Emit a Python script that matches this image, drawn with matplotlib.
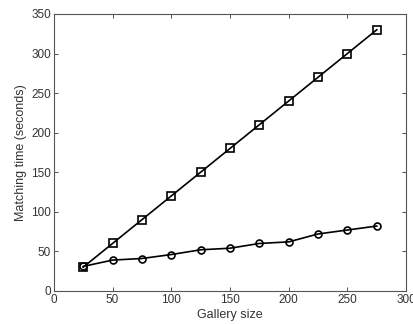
import matplotlib
matplotlib.use("Agg")
import matplotlib.pyplot as plt

gallery_size = [25, 50, 75, 100, 125, 150, 175, 200, 225, 250, 275]
time_squares = [30, 60, 90, 120, 150, 180, 210, 240, 270, 300, 330]
time_circles = [31, 39, 41, 46, 52, 54, 60, 62, 72, 77, 82]
xticks = [0, 50, 100, 150, 200, 250, 300]
yticks = [0, 50, 100, 150, 200, 250, 300, 350]

plt.rcParams['font.family'] = ['Liberation Sans', 'DejaVu Sans']
fig = plt.figure(figsize=(4.14, 3.24), dpi=100)
ax = fig.add_axes([0.130, 0.102, 0.851, 0.855])
ax.plot(gallery_size, time_squares, color='black', lw=1.2, marker='s', ms=6,
        mfc='none', mec='black', mew=1.2)
ax.plot(gallery_size, time_circles, color='black', lw=1.2, marker='o', ms=5,
        mfc='none', mec='black', mew=1.2)
ax.set_xlim(0, 300)
ax.set_ylim(0, 350)
ax.set_xticks(xticks)
ax.set_yticks(yticks)
ax.tick_params(direction='in', top=True, right=True, length=3, labelsize=8.5,
               colors='#333333', width=0.6, pad=2)
for s in ax.spines.values():
    s.set_color('#555555')
    s.set_linewidth(0.8)
ax.set_xlabel('Gallery size', fontsize=9, color='#333333', labelpad=2)
ax.set_ylabel('Matching time (seconds)', fontsize=9, color='#333333', labelpad=3)
fig.savefig('out.png', dpi=100)
